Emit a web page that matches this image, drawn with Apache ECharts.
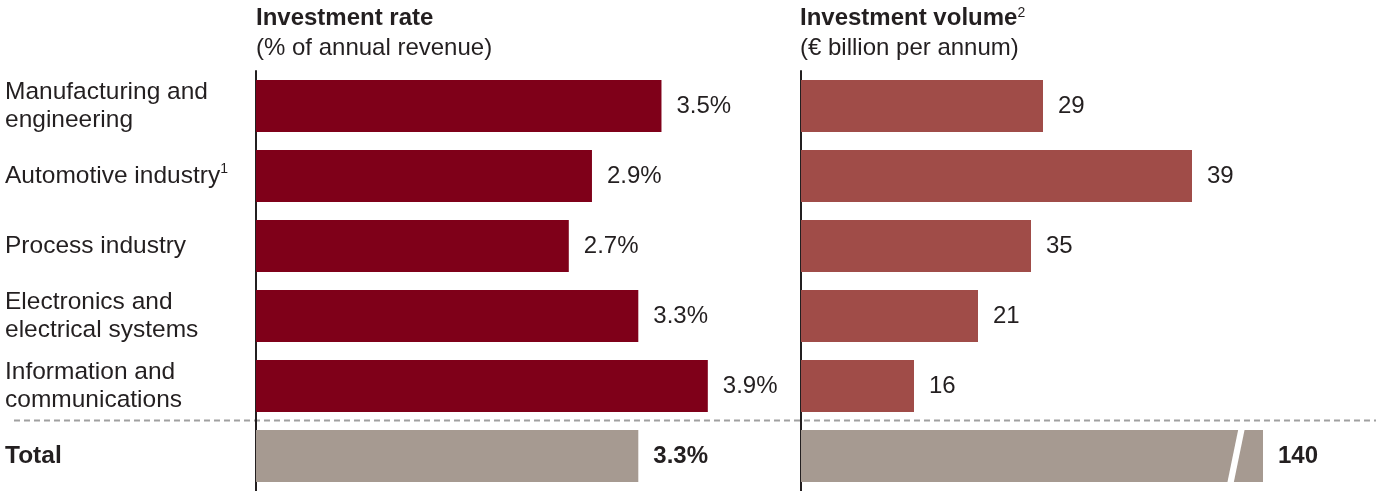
<!DOCTYPE html>
<html><head><meta charset="utf-8">
<script src="https://cdn.jsdelivr.net/npm/echarts@6/dist/echarts.min.js"></script>
<style>html,body{margin:0;padding:0;background:#fff}#c{width:1376px;height:491px}</style>
</head><body><div id="c"></div>
<script>
// ---- data ----
const categories = ['Manufacturing and\nengineering', 'Automotive industry', 'Process industry', 'Electronics and\nelectrical systems', 'Information and\ncommunications', 'Total'];
const categoryNotes = ['', '1', '', '', '', ''];
const rateValues = [3.5, 2.9, 2.7, 3.3, 3.9, 3.3];
const volumeLabels = ['29', '39', '35', '21', '16', '140'];
// bar lengths as drawn in the reference (drawn lengths are not proportional to the labels)
const volumeBarLengths = [24.2, 39.1, 23.0, 17.7, 11.3, 46.2];
const volumeBreakAt = [43.5];
const rateTitle = 'Investment rate';
const rateSubtitle = '(% of annual revenue)';
const volumeTitle = 'Investment volume';
const volumeTitleNote = '2';
const volumeSubtitle = '(€ billion per annum)';

// ---- style ----
const FONT = "'Liberation Sans', Arial, Helvetica, sans-serif";
const TXT = '#231f20';
const RED = '#7f0019';
const RED2 = '#a04c48';
const GRAY = '#a69a91';
const TOTAL_IDX = categories.length - 1;

const chart = echarts.init(document.getElementById('c'));
const axisLine = { show: true, lineStyle: { color: TXT, width: 2 } };

function barData(vals, color) {
  return vals.map((v, i) => ({
    value: v,
    itemStyle: { color: i === TOTAL_IDX ? GRAY : color },
    label: i === TOTAL_IDX ? { fontWeight: 'bold' } : {}
  }));
}
const labelBase = { show: true, position: 'right', distance: 15, fontSize: 24, color: TXT, fontFamily: FONT };

chart.setOption({
  animation: false,
  textStyle: { fontFamily: FONT },
  title: [
    { left: 256, top: 6, padding: 0, itemGap: 6,
      text: rateTitle, subtext: rateSubtitle,
      textStyle: { fontSize: 24, fontWeight: 'bold', color: TXT, fontFamily: FONT, lineHeight: 24 },
      subtextStyle: { fontSize: 24, color: TXT, fontFamily: FONT, lineHeight: 24 } },
    { left: 800, top: 6, padding: 0, itemGap: 6,
      text: volumeTitle + '{sup|' + volumeTitleNote + '}', subtext: volumeSubtitle,
      textStyle: { fontSize: 24, fontWeight: 'bold', color: TXT, fontFamily: FONT, lineHeight: 24,
        rich: { sup: { fontSize: 14, fontWeight: 'normal', color: TXT, fontFamily: FONT, verticalAlign: 'top', lineHeight: 14 } } },
      subtextStyle: { fontSize: 24, color: TXT, fontFamily: FONT, lineHeight: 24 } }
  ],
  grid: [
    { left: 256, top: 71, width: 463.4, height: 420, containLabel: false, outerBoundsMode: 'none' },
    { left: 801, top: 71, width: 500, height: 420, containLabel: false, outerBoundsMode: 'none' }
  ],
  xAxis: [
    { type: 'value', gridIndex: 0, min: 0, max: 4, show: false },
    { type: 'value', gridIndex: 1, min: 0, max: 50, show: false }
  ],
  yAxis: [
    { type: 'category', gridIndex: 0, data: categories, inverse: true, offset: 1,
      axisLine: axisLine, axisTick: { show: false }, splitLine: { show: false },
      axisLabel: {
        align: 'left', margin: 250, fontSize: 24.5, lineHeight: 28, color: TXT, fontFamily: FONT,
        formatter: (v, i) => i === TOTAL_IDX ? '{b|' + v + '}' : v + (categoryNotes[i] ? '{sup|' + categoryNotes[i] + '}' : ''),
        rich: {
          b: { fontSize: 24.5, fontWeight: 'bold', color: TXT, fontFamily: FONT, lineHeight: 28 },
          sup: { fontSize: 14, color: TXT, fontFamily: FONT, verticalAlign: 'top', lineHeight: 16 }
        }
      } },
    { type: 'category', gridIndex: 1, data: categories, inverse: true, offset: 1,
      axisLine: axisLine, axisTick: { show: false }, splitLine: { show: false },
      axisLabel: { show: false } }
  ],
  graphic: [
    { type: 'line', z: -1, shape: { x1: 14, y1: 420.5, x2: 1376, y2: 420.5 },
      style: { stroke: '#a0a0a0', lineWidth: 2, lineDash: [6, 4] } }
  ],
  series: [
    { type: 'bar', xAxisIndex: 0, yAxisIndex: 0, barWidth: 52, z: 2,
      data: barData(rateValues, RED),
      label: Object.assign({}, labelBase, { formatter: p => p.value.toFixed(1) + '%' }) },
    { type: 'bar', xAxisIndex: 1, yAxisIndex: 1, barWidth: 52, z: 2,
      data: barData(volumeBarLengths, RED2),
      label: Object.assign({}, labelBase, { formatter: p => volumeLabels[p.dataIndex] }) },
    { type: 'custom', xAxisIndex: 1, yAxisIndex: 1, z: 5, silent: true,
      data: volumeBreakAt.map(v => [v, TOTAL_IDX]),
      renderItem: (params, api) => {
        const c = api.coord([api.value(0), api.value(1)]);
        const h = 28, s = 5.75;
        return { type: 'polygon', shape: { points: [
          [c[0] - 3.2 + s, c[1] - h], [c[0] + 3.2 + s, c[1] - h],
          [c[0] + 3.2 - s, c[1] + h], [c[0] - 3.2 - s, c[1] + h]
        ] }, style: { fill: '#fff' } };
      } }
  ]
});
</script>
</body></html>
